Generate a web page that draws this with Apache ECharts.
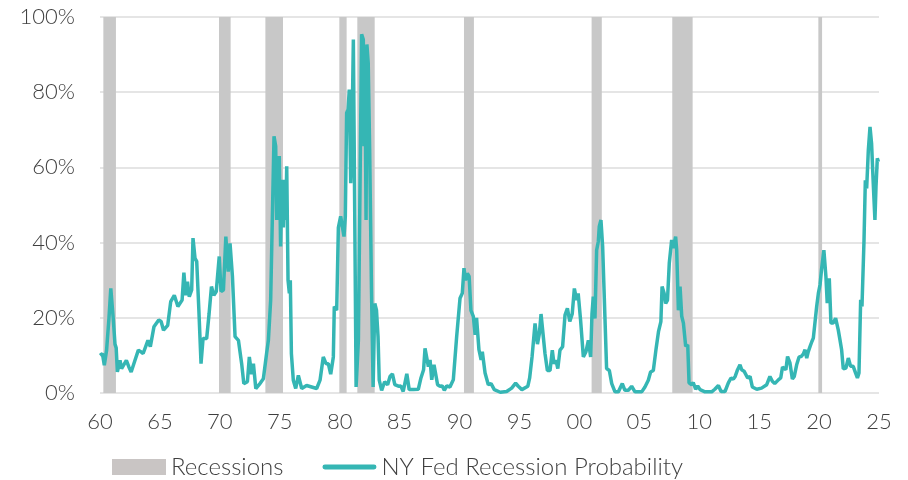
<!DOCTYPE html>
<html>
<head>
<meta charset="utf-8">
<script src="https://cdn.jsdelivr.net/npm/echarts@6/dist/echarts.min.js"></script>
<style>
html,body{margin:0;padding:0;background:#fff;}
#chart{width:908px;height:480px;}
</style>
</head>
<body>
<div id="chart"></div>
<script>
// Recession periods (decimal years, start/end)
var recessionStart = [1960.28, 1969.93, 1973.80, 1979.97, 1981.47, 1990.37, 2001.02, 2007.75, 2019.94];
var recessionEnd   = [1961.33, 1970.90, 1975.27, 1980.58, 1982.92, 1991.20, 2001.87, 2009.45, 2020.25];

// NY Fed recession probability (decimal year, %)
var probYears = [
1960.0,1960.2,1960.36,1960.55,1960.75,1960.9,1961.1,1961.25,1961.35,1961.45,1961.67,1961.8,1961.95,1962.2,1962.4,1962.6,1962.9,1963.2,1963.4,1963.6,
1964.0,1964.2,1964.5,1964.9,1965.1,1965.3,1965.65,1965.9,1966.2,1966.5,1966.85,1967.0,1967.15,1967.3,1967.45,1967.65,1967.76,1967.93,1968.07,1968.25,
1968.43,1968.6,1968.9,1969.1,1969.3,1969.5,1969.7,1969.95,1970.1,1970.3,1970.5,1970.7,1970.85,1971.05,1971.27,1971.55,1971.82,1972.0,1972.1,1972.3,
1972.46,1972.65,1972.8,1973.0,1973.35,1973.63,1973.9,1974.05,1974.24,1974.4,1974.52,1974.66,1974.74,1974.83,1974.9,1974.96,1975.07,1975.18,1975.3,1975.4,
1975.5,1975.58,1975.69,1975.8,1975.88,1975.97,1976.13,1976.33,1976.55,1976.83,1977.24,1977.66,1978.08,1978.36,1978.63,1978.86,1979.05,1979.25,1979.47,1979.55,
1979.75,1979.89,1980.08,1980.22,1980.36,1980.47,1980.58,1980.7,1980.8,1980.92,1981.0,1981.14,1981.37,1981.56,1981.83,1981.97,1982.03,1982.1,1982.2,1982.27,
1982.38,1982.5,1982.65,1982.79,1982.93,1983.07,1983.2,1983.3,1983.5,1983.75,1984.0,1984.2,1984.4,1984.6,1984.9,1985.1,1985.3,1985.6,1985.8,1986.15,
1986.56,1986.78,1987.0,1987.12,1987.25,1987.4,1987.54,1987.68,1987.87,1988.0,1988.17,1988.37,1988.55,1988.73,1988.93,1989.2,1989.48,1989.76,1990.04,1990.23,
1990.37,1990.5,1990.65,1990.8,1990.95,1991.15,1991.3,1991.42,1991.62,1991.8,1991.9,1992.13,1992.4,1992.63,1992.9,1993.4,1993.93,1994.35,1994.68,1994.9,
1995.2,1995.7,1995.85,1996.05,1996.3,1996.5,1996.66,1996.8,1996.94,1997.13,1997.33,1997.55,1997.74,1997.88,1998.05,1998.2,1998.38,1998.6,1998.8,1999.0,
1999.2,1999.4,1999.58,1999.77,1999.9,2000.1,2000.33,2000.55,2000.75,2000.94,2001.05,2001.16,2001.3,2001.44,2001.58,2001.66,2001.8,2001.94,2002.13,2002.27,
2002.5,2002.7,2002.97,2003.25,2003.58,2003.8,2004.08,2004.36,2004.64,2005.2,2005.47,2005.75,2005.94,2006.17,2006.4,2006.6,2006.8,2006.9,2007.07,2007.2,
2007.35,2007.5,2007.7,2007.84,2008.03,2008.12,2008.26,2008.4,2008.54,2008.68,2008.87,2009.04,2009.15,2009.37,2009.5,2009.7,2009.87,2010.07,2010.48,2011.04,
2011.3,2011.6,2011.82,2012.15,2012.43,2012.65,2012.85,2013.0,2013.2,2013.4,2013.54,2013.74,2013.9,2014.04,2014.24,2014.43,2014.8,2015.2,2015.63,2015.9,
2016.1,2016.3,2016.6,2016.8,2016.95,2017.1,2017.23,2017.37,2017.57,2017.77,2017.93,2018.13,2018.33,2018.5,2018.69,2018.83,2018.97,2019.1,2019.25,2019.4,
2019.52,2019.66,2019.8,2019.94,2020.08,2020.2,2020.4,2020.57,2020.68,2020.85,2020.99,2021.18,2021.38,2021.6,2021.74,2021.88,2022.02,2022.24,2022.44,2022.63,
2022.85,2023.05,2023.2,2023.33,2023.47,2023.58,2023.75,2023.86,2023.97,2024.11,2024.25,2024.38,2024.52,2024.66,2024.75,2024.86,2024.95
];
var probValues = [
10,10.5,7.4,11.4,20,27.8,20,13,12,5.6,8.7,6.5,6.5,8.7,7,5.6,8.5,11.4,11,10.5,
14,12.3,17.6,19.4,19,16.7,18,24.3,26,23,24.7,32,26,29.6,25.6,27.4,41.2,35.8,35,22,
7.8,14.5,14.5,21,28.3,26,27,36.3,27,27.4,41.6,32.3,39.8,31,15,14,7.8,2.5,2.5,3,
9.6,5,7.8,1.2,2.5,3.8,10.5,14,24.7,24.7,68.3,65.6,46,60,46,63,39,56.7,44,56.7,
46,60.3,30,26.5,30,10.5,3.4,1.2,4.7,1.2,2,1.6,1.2,3.4,9.6,7.8,7.8,5,9.6,23,
22,44,47,47,41.6,47,74.5,75.4,80.7,55.8,63,94,1.6,14,95.4,94,65.6,92,46,92.7,
87.8,64.7,28,1.6,23.8,22,15,3.4,0.7,3,2.2,4.4,5.1,2.2,1.8,1.9,0.4,5.1,0.9,0.9,
1,4,6.2,11.9,11.5,7,8.8,3.5,7.5,7,2.2,1.8,1.9,0.7,1.9,1.6,3.5,15,25.2,26.5,
33.2,30,31.8,31,22,20.4,15.5,20,11.5,8.8,11,5.3,2.2,2.5,0.9,0.2,0.4,1.3,2.6,1.8,
0.9,1.8,4,9.6,18.5,13,15.8,21,20.7,10.5,6,6,11.4,7.8,8.7,6.5,11.4,12.3,20.7,22.5,
19,21,27.8,24.7,26.5,19.4,9.6,11,14,9.6,21,25.6,19.8,38,40.3,44.3,46,39,20.3,6.5,
6,2.5,0.3,0.3,2.5,0.7,0.7,1.8,0.3,0.3,1.6,3.4,5.6,6,11.8,16.3,19,28.3,26.5,23.8,
24.7,34.5,40.7,38.5,41.6,38,22,28.3,20.4,18.6,12.4,12.8,2.7,2.2,2.8,1,1.9,0.9,0.3,0.3,
1,2,0.4,0.4,2.7,4,3.7,4.4,6.2,7.5,6.2,5.8,5.3,4,4.4,1.6,1,1.3,2.2,4.4,
3.1,2.5,3.5,4,6.9,7.1,6.2,9.7,8,3.7,4.4,7.5,9.6,9.7,10.4,11.5,9.3,11,12.4,13.7,
14.6,15,23,26.5,28.8,32.7,38,31,23.9,30.5,18.6,18.6,19.9,16.8,14.2,11.5,6.4,6.6,9.3,7.1,
7.1,5.3,4,5.3,24.8,23,40.7,56.6,54.4,64.6,70.8,66.4,55.8,46,54.9,62.4,61.5
];

var xTicks = [1960,1965,1970,1975,1980,1985,1990,1995,2000,2005,2010,2015,2020,2025];
var yTicks = [0,20,40,60,80,100];

var lineData = probYears.map(function(y, i){ return [y, probValues[i]]; });
var recData = recessionStart.map(function(s, i){ return [s, recessionEnd[i]]; });

var FONT = 'Lato, "Open Sans", sans-serif';
var TXT = '#404040';

var chart = echarts.init(document.getElementById('chart'));
chart.setOption({
  animation: false,
  backgroundColor: '#ffffff',
  grid: {left: 100, right: 29, top: 17, bottom: 87, containLabel: false},
  legend: {
    left: 107, top: 450,
    itemWidth: 54, itemHeight: 16, itemGap: 39,
    textStyle: {fontFamily: FONT, fontSize: 24, color: TXT, fontWeight: 300},
    data: [
      {name: 'Recessions', icon: 'rect', itemStyle: {color: '#c9c5c4'}},
      {name: 'NY Fed Recession Probability', icon: 'path://M2.5,0 L52.5,0 A2.5,2.5 0 0 1 52.5,5 L2.5,5 A2.5,2.5 0 0 1 2.5,0 Z', itemStyle: {color: '#35b6b4'}}
    ]
  },
  xAxis: {
    type: 'value', min: 1960, max: 2025, interval: 5,
    axisLine: {show: false}, axisTick: {show: false}, splitLine: {show: false},
    axisLabel: {
      margin: 18, fontFamily: FONT, fontSize: 22, color: TXT, fontWeight: 300,
      formatter: function(v){ var t = Math.round(v) % 100; return (t < 10 ? '0' : '') + t; }
    }
  },
  yAxis: {
    type: 'value', min: 0, max: 100, interval: 20,
    axisLine: {show: false}, axisTick: {show: false},
    splitLine: {lineStyle: {color: '#dcdcdc', width: 1.5}},
    axisLabel: {margin: 25, fontFamily: FONT, fontSize: 22, color: TXT, fontWeight: 300, formatter: '{value}%'}
  },
  series: [
    {
      name: 'Recessions', type: 'custom', data: recData, z: 1,
      encode: {x: [0, 1]},
      itemStyle: {color: '#c8c8c8'},
      renderItem: function(params, api){
        var p0 = api.coord([api.value(0), 100]);
        var p1 = api.coord([api.value(1), 0]);
        return {type: 'rect', shape: {x: p0[0], y: p0[1], width: p1[0] - p0[0], height: p1[1] - p0[1]}, style: {fill: '#c8c8c8'}};
      }
    },
    {
      name: 'NY Fed Recession Probability', type: 'line', data: lineData, z: 5,
      symbol: 'none', showSymbol: false,
      lineStyle: {color: '#35b6b4', width: 3.5},
      itemStyle: {color: '#35b6b4'}
    }
  ]
});
</script>
</body>
</html>
